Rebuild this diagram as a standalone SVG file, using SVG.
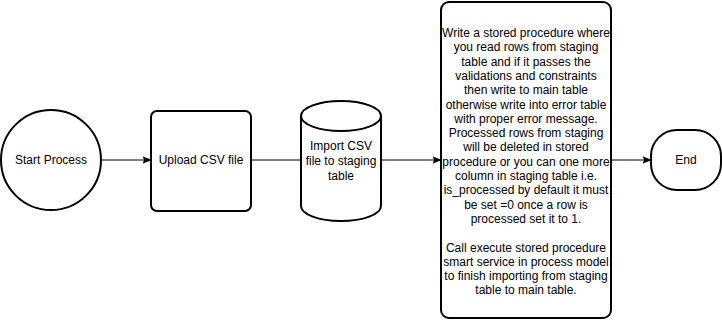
<svg xmlns="http://www.w3.org/2000/svg" width="722" height="322" viewBox="0 0 722 322">
<style>
.shape{fill:#fff;stroke:#000;stroke-width:2}
.edge{fill:none;stroke:#000;stroke-width:1}
text{font-family:"Liberation Sans",Arial,sans-serif;font-size:12px;fill:#000;text-anchor:middle}
</style>
<defs>
<marker id="arrow" viewBox="0 0 10 10" refX="9" refY="5" markerWidth="8" markerHeight="8" markerUnits="userSpaceOnUse" orient="auto">
<path d="M0,1 L10,5 L0,9 L2.5,5 Z" fill="#000" stroke="#000"/>
</marker>
</defs>
<g id="edges">
<line class="edge" x1="101" y1="160" x2="150" y2="160" marker-end="url(#arrow)"/>
<line class="edge" x1="251" y1="160" x2="301" y2="160"/>
<line class="edge" x1="381" y1="160" x2="440" y2="160" marker-end="url(#arrow)"/>
<line class="edge" x1="611" y1="160" x2="650" y2="160" marker-end="url(#arrow)"/>
</g>
<g id="start">
<circle class="shape" cx="51" cy="160" r="50"/>
<text x="51" y="164">Start Process</text>
</g>
<g id="upload">
<rect class="shape" x="151" y="111" width="100" height="100" rx="6"/>
<text x="201" y="164">Upload CSV file</text>
</g>
<g id="import">
<path class="shape" d="M301,116 A40,15 0 0 1 381,116 L381,206 A40,15 0 0 1 301,206 Z"/>
<path class="shape" fill="none" d="M301,116 A40,15 0 0 0 381,116"/>
<text x="341" y="150">Import CSV</text>
<text x="341" y="165">file to staging</text>
<text x="341" y="180">table</text>
</g>
<g id="procedure">
<rect class="shape" x="441" y="2" width="170" height="316" rx="8"/>
<text x="526" y="37">Write a stored procedure where</text>
<text x="526" y="51.3">you read rows from staging</text>
<text x="526" y="65.6">table and if it passes the</text>
<text x="526" y="79.9">validations and constraints</text>
<text x="526" y="94.2">then write to main table</text>
<text x="526" y="108.5">otherwise write into error table</text>
<text x="526" y="122.8">with proper error message.</text>
<text x="526" y="137.1">Processed rows from staging</text>
<text x="526" y="151.4">will be deleted in stored</text>
<text x="526" y="165.7">procedure or you can one more</text>
<text x="526" y="180">column in staging table i.e.</text>
<text x="526" y="194.3">is_processed by default it must</text>
<text x="526" y="208.6">be set =0 once a row is</text>
<text x="526" y="222.9">processed set it to 1.</text>
<text x="526" y="251.5">Call execute stored procedure</text>
<text x="526" y="265.8">smart service in process model</text>
<text x="526" y="280.1">to finish importing from staging</text>
<text x="526" y="294.4">table to main table.</text>
</g>
<g id="end">
<rect class="shape" x="651" y="130" width="70" height="60" rx="26"/>
<text x="686" y="164">End</text>
</g>
</svg>
